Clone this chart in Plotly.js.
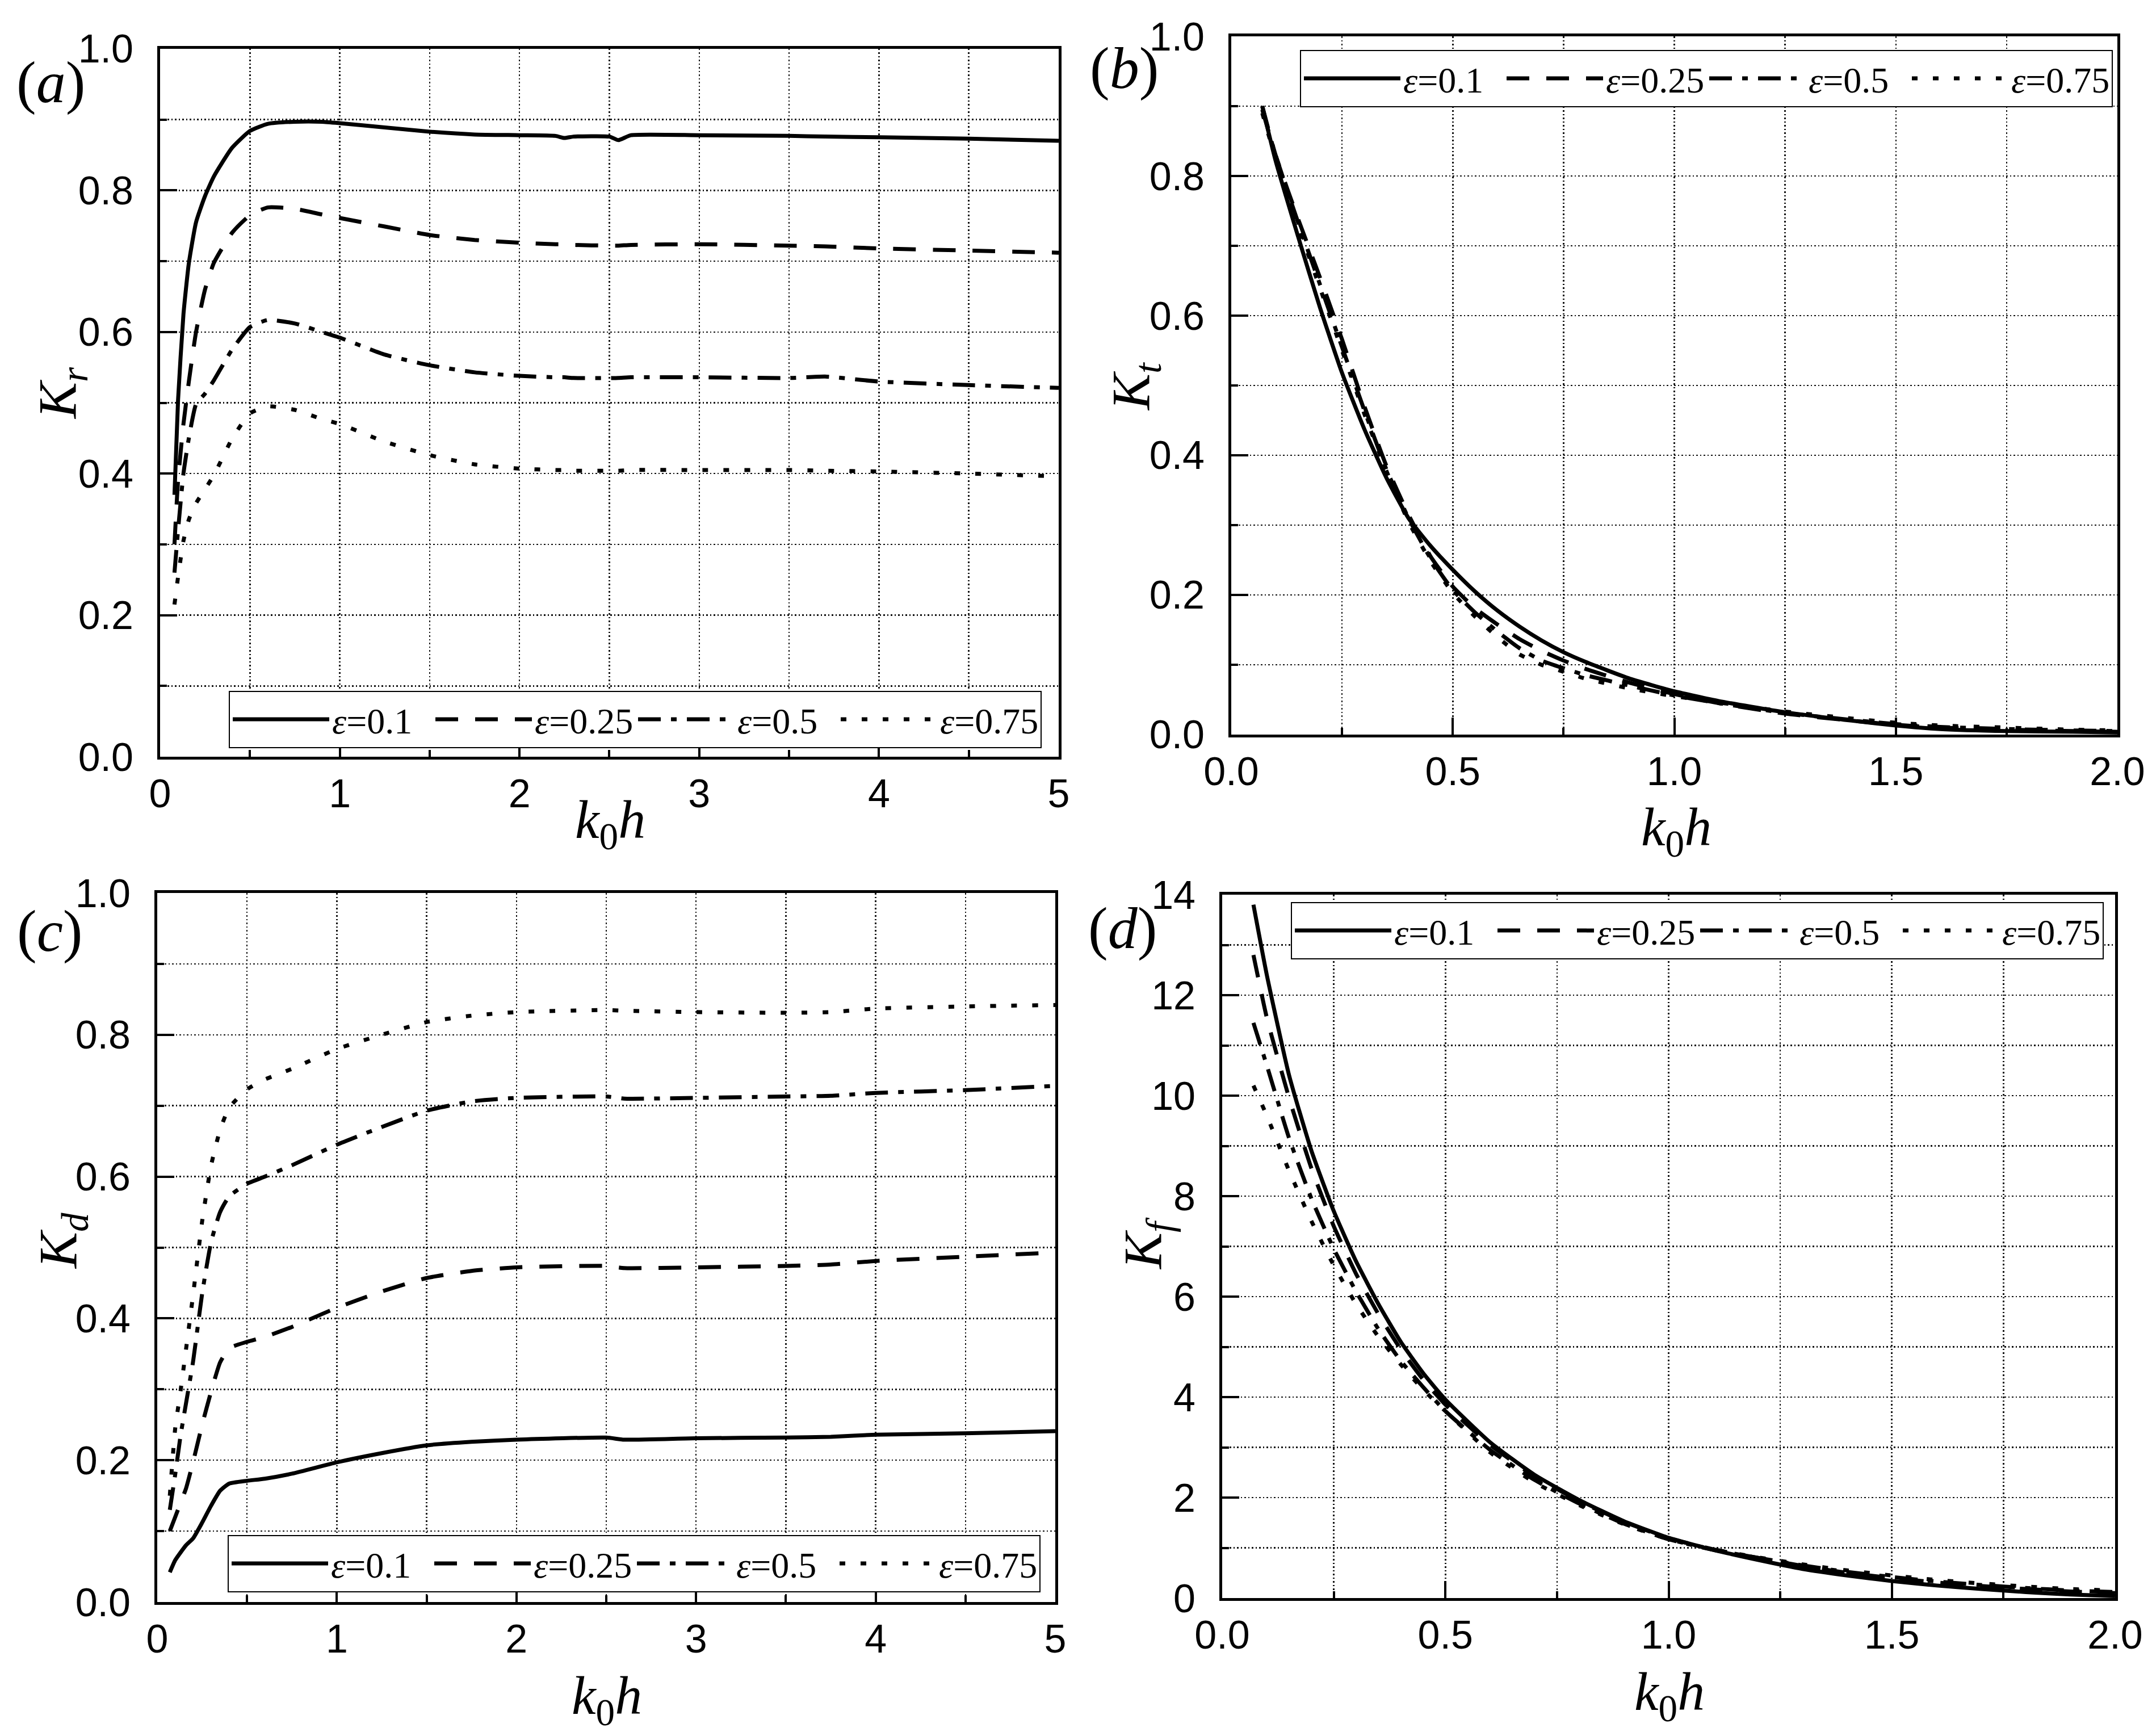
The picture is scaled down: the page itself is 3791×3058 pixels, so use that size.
<!DOCTYPE html>
<html>
<head>
<meta charset="utf-8">
<script src="https://cdn.plot.ly/plotly-3.0.1.min.js"></script>
<style>
  html, body { margin: 0; padding: 0; background: #fff; }
  #chart { width: 3791px; height: 3058px; }
</style>
</head>
<body>
<div id="chart"></div>
<script>
// epsilon values shared by the four panels
const eps = ['0.1', '0.25', '0.5', '0.75'];

// (a) reflection coefficient Kr
const krX = [0.08, 0.1, 0.13, 0.16, 0.2, 0.25, 0.3, 0.4, 0.5, 0.6, 0.75, 0.9, 1.0, 1.25, 1.5, 1.75, 2.0, 2.2, 2.25, 2.3, 2.5, 2.55, 2.62, 3.0, 3.5, 3.7, 4.0, 4.5, 5.0];
const kr01 = [0.37, 0.504, 0.625, 0.697, 0.755, 0.792, 0.82, 0.86, 0.884, 0.894, 0.897, 0.897, 0.895, 0.889, 0.883, 0.879, 0.878, 0.877, 0.874, 0.876, 0.876, 0.871, 0.878, 0.878, 0.877, 0.876, 0.875, 0.873, 0.870];
const kr025 = [0.3, 0.39, 0.47, 0.53, 0.6, 0.66, 0.698, 0.74, 0.765, 0.776, 0.774, 0.766, 0.761, 0.749, 0.737, 0.73, 0.726, 0.724, 0.724, 0.723, 0.722, 0.722, 0.723, 0.724, 0.722, 0.721, 0.718, 0.715, 0.712];
const kr05 = [0.26, 0.32, 0.4, 0.45, 0.498, 0.513, 0.532, 0.575, 0.607, 0.617, 0.612, 0.6, 0.592, 0.568, 0.553, 0.543, 0.538, 0.536, 0.536, 0.535, 0.535, 0.535, 0.536, 0.536, 0.535, 0.537, 0.53, 0.525, 0.521];
const kr075 = [0.215, 0.254, 0.305, 0.335, 0.358, 0.378, 0.398, 0.449, 0.485, 0.495, 0.49, 0.477, 0.47, 0.445, 0.426, 0.413, 0.407, 0.405, 0.405, 0.404, 0.404, 0.404, 0.405, 0.405, 0.405, 0.404, 0.403, 0.4, 0.396];

// (b) transmission coefficient Kt
const ktX = [0.07, 0.1, 0.15, 0.2, 0.25, 0.3, 0.35, 0.4, 0.45, 0.5, 0.55, 0.6, 0.65, 0.7, 0.75, 0.8, 0.9, 1.0, 1.1, 1.25, 1.4, 1.5, 1.6, 1.75, 1.9, 2.0];
const kt01 = [0.9, 0.822, 0.715, 0.612, 0.518, 0.438, 0.368, 0.31, 0.27, 0.236, 0.205, 0.178, 0.155, 0.135, 0.118, 0.104, 0.08, 0.062, 0.048, 0.032, 0.02, 0.013, 0.008, 0.005, 0.004, 0.003];
const kt025 = [0.9, 0.83, 0.74, 0.655, 0.566, 0.471, 0.385, 0.315, 0.255, 0.212, 0.181, 0.158, 0.137, 0.12, 0.106, 0.094, 0.074, 0.058, 0.045, 0.03, 0.02, 0.014, 0.01, 0.007, 0.005, 0.004];
const kt05 = [0.895, 0.83, 0.735, 0.645, 0.555, 0.465, 0.38, 0.31, 0.252, 0.207, 0.175, 0.148, 0.124, 0.106, 0.095, 0.085, 0.07, 0.056, 0.045, 0.031, 0.021, 0.015, 0.011, 0.008, 0.006, 0.005];
const kt075 = [0.89, 0.825, 0.73, 0.64, 0.55, 0.46, 0.378, 0.305, 0.248, 0.203, 0.169, 0.14, 0.115, 0.1, 0.09, 0.08, 0.066, 0.055, 0.046, 0.033, 0.023, 0.017, 0.013, 0.01, 0.007, 0.006];

// (c) dissipation coefficient Kd
const kdX = [0.07, 0.1, 0.13, 0.16, 0.2, 0.25, 0.3, 0.35, 0.4, 0.5, 0.6, 0.75, 1.0, 1.25, 1.5, 1.75, 2.0, 2.5, 2.6, 3.0, 3.5, 3.75, 4.0, 4.5, 5.0];
const kd01 = [0.042, 0.059, 0.07, 0.08, 0.09, 0.112, 0.136, 0.157, 0.167, 0.171, 0.174, 0.181, 0.197, 0.21, 0.221, 0.226, 0.229, 0.232, 0.229, 0.231, 0.232, 0.233, 0.236, 0.238, 0.241];
const kd025 = [0.1, 0.12, 0.14, 0.16, 0.198, 0.25, 0.297, 0.338, 0.358, 0.367, 0.374, 0.388, 0.415, 0.438, 0.457, 0.467, 0.472, 0.474, 0.471, 0.472, 0.474, 0.476, 0.481, 0.487, 0.493];
const kd05 = [0.13, 0.18, 0.235, 0.28, 0.34, 0.435, 0.508, 0.55, 0.572, 0.59, 0.6, 0.616, 0.645, 0.67, 0.693, 0.706, 0.711, 0.713, 0.71, 0.711, 0.713, 0.714, 0.718, 0.722, 0.728];
const kd075 = [0.15, 0.245, 0.298, 0.356, 0.434, 0.537, 0.616, 0.666, 0.697, 0.723, 0.737, 0.752, 0.78, 0.8, 0.818, 0.827, 0.832, 0.835, 0.834, 0.832, 0.831, 0.832, 0.837, 0.84, 0.842];

// (d) force coefficient Kf
const kfX = [0.07, 0.1, 0.15, 0.2, 0.25, 0.3, 0.35, 0.4, 0.45, 0.5, 0.6, 0.7, 0.8, 0.9, 1.0, 1.1, 1.2, 1.3, 1.4, 1.5, 1.6, 1.7, 1.8, 1.9, 2.0];
const kf01 = [13.8, 12.4, 10.4, 8.9, 7.7, 6.7, 5.85, 5.1, 4.48, 3.95, 3.1, 2.45, 1.95, 1.53, 1.2, 0.96, 0.76, 0.58, 0.45, 0.34, 0.25, 0.18, 0.12, 0.07, 0.04];
const kf025 = [12.8, 11.55, 9.95, 8.55, 7.4, 6.45, 5.65, 4.95, 4.35, 3.85, 3.05, 2.42, 1.93, 1.52, 1.19, 0.97, 0.8, 0.64, 0.5, 0.4, 0.31, 0.24, 0.18, 0.13, 0.1];
const kf05 = [11.45, 10.6, 9.15, 7.95, 6.95, 6.1, 5.35, 4.72, 4.2, 3.72, 2.95, 2.35, 1.88, 1.48, 1.17, 0.96, 0.8, 0.65, 0.52, 0.42, 0.33, 0.26, 0.2, 0.15, 0.12];
const kf075 = [10.2, 9.6, 8.5, 7.5, 6.62, 5.85, 5.2, 4.65, 4.15, 3.72, 2.9, 2.3, 1.85, 1.47, 1.17, 0.97, 0.81, 0.67, 0.55, 0.45, 0.36, 0.29, 0.23, 0.18, 0.15];

const dashes = ['solid', '40px,30px', '40px,18px,10px,18px', '10px,27px'];
const serif = 'Liberation Serif, Times New Roman, serif';
const sans = 'Liberation Sans, Arial, sans-serif';

function curves(x, ys, ax, legendId) {
  return ys.map(function (y, i) {
    return {
      x: x, y: y,
      xaxis: 'x' + ax, yaxis: 'y' + ax,
      legend: legendId,
      name: '<i>ε</i>=' + eps[i],
      mode: 'lines',
      line: { color: 'black', width: 7, dash: dashes[i], shape: 'spline', smoothing: 0.5 },
      hoverinfo: 'skip'
    };
  });
}

let data = [].concat(
  curves(krX, [kr01, kr025, kr05, kr075], '', 'legend'),
  curves(ktX, [kt01, kt025, kt05, kt075], '2', 'legend2'),
  curves(kdX, [kd01, kd025, kd05, kd075], '3', 'legend3'),
  curves(kfX, [kf01, kf025, kf05, kf075], '4', 'legend4')
);

function eje(domain, range, dtick, minor, fmt, anchor, standoff) {
  return {
    domain: domain, range: range, anchor: anchor,
    tickmode: 'linear', tick0: 0, dtick: dtick, tickformat: fmt,
    ticks: 'inside', ticklen: 30, tickwidth: 4, tickcolor: 'black',
    ticklabelstandoff: standoff,
    tickfont: { family: sans, size: 70, color: 'black' },
    showline: true, linewidth: 5, linecolor: 'black', mirror: true,
    showgrid: true, gridcolor: '#111', gridwidth: 2.5, griddash: '2.5px,4px',
    zeroline: false, fixedrange: true,
    minor: {
      dtick: minor, tick0: 0, ticks: 'inside', ticklen: 12, tickwidth: 4, tickcolor: 'black',
      showgrid: true, gridcolor: '#111', gridwidth: 2.5, griddash: '2.5px,4px'
    }
  };
}

function leyenda(x, y) {
  return {
    orientation: 'h', x: x, y: y, xanchor: 'left', yanchor: 'top',
    bgcolor: 'white', bordercolor: 'black', borderwidth: 2,
    itemwidth: 170, entrywidth: 172, valign: 'middle',
    font: { family: serif, size: 64, color: 'black' }
  };
}

function texto(t, x, y, size, angle) {
  return {
    text: t, x: x, y: y, xref: 'paper', yref: 'paper',
    xanchor: 'center', yanchor: 'middle', showarrow: false,
    textangle: angle || 0,
    font: { family: serif, size: size, color: 'black' }
  };
}

const k0h = '<i>k</i><sub>0</sub><i>h</i>';

let layout = {
  width: 3791, height: 3058,
  margin: { l: 0, r: 0, t: 0, b: 0 },
  paper_bgcolor: 'white', plot_bgcolor: 'white',
  showlegend: true,
  xaxis: eje([0.07439, 0.49195], [0, 5], 1, 0.5, 'd', 'y', 0),
  yaxis: eje([0.56409, 0.97188], [0, 1], 0.2, 0.1, '.1f', 'x', 28),
  xaxis2: eje([0.57215, 0.98391], [0, 2], 0.5, 0.25, '.1f', 'y2', 0),
  yaxis2: eje([0.57685, 0.97907], [0, 1], 0.2, 0.1, '.1f', 'x2', 28),
  xaxis3: eje([0.07307, 0.49037], [0, 5], 1, 0.5, 'd', 'y3', 0),
  yaxis3: eje([0.07717, 0.48561], [0, 1], 0.2, 0.1, '.1f', 'x3', 28),
  xaxis4: eje([0.56793, 0.98285], [0, 2], 0.5, 0.25, '.1f', 'y4', 0),
  yaxis4: eje([0.07946, 0.48463], [0, 14], 2, 1, 'd', 'x4', 28),
  legend: leyenda(0.10631, 0.60203),
  legend2: leyenda(0.60406, 0.97122),
  legend3: leyenda(0.10578, 0.11576),
  legend4: leyenda(0.59984, 0.48038),
  annotations: [
    texto('(<i>a</i>)', 0.02348, 0.95258, 104),
    texto('(<i>b</i>)', 0.52255, 0.96076, 104),
    texto('(<i>c</i>)', 0.02295, 0.46370, 104),
    texto('(<i>d</i>)', 0.52176, 0.46534, 104),
    texto(k0h, 0.28357, 0.52583, 96),
    texto(k0h, 0.77895, 0.52126, 96),
    texto(k0h, 0.28198, 0.02093, 96),
    texto(k0h, 0.77578, 0.02322, 96),
    texto('<i>K</i><sub><i>r</i></sub>', 0.02875, 0.77371, 96, -90),
    texto('<i>K</i><sub><i>t</i></sub>', 0.52730, 0.77763, 96, -90),
    texto('<i>K</i><sub><i>d</i></sub>', 0.02875, 0.28515, 96, -90),
    texto('<i>K</i><sub><i>f</i></sub>', 0.53284, 0.28384, 96, -90)
  ]
};

Plotly.newPlot('chart', data, layout, { staticPlot: true, displayModeBar: false });
</script>
</body>
</html>
